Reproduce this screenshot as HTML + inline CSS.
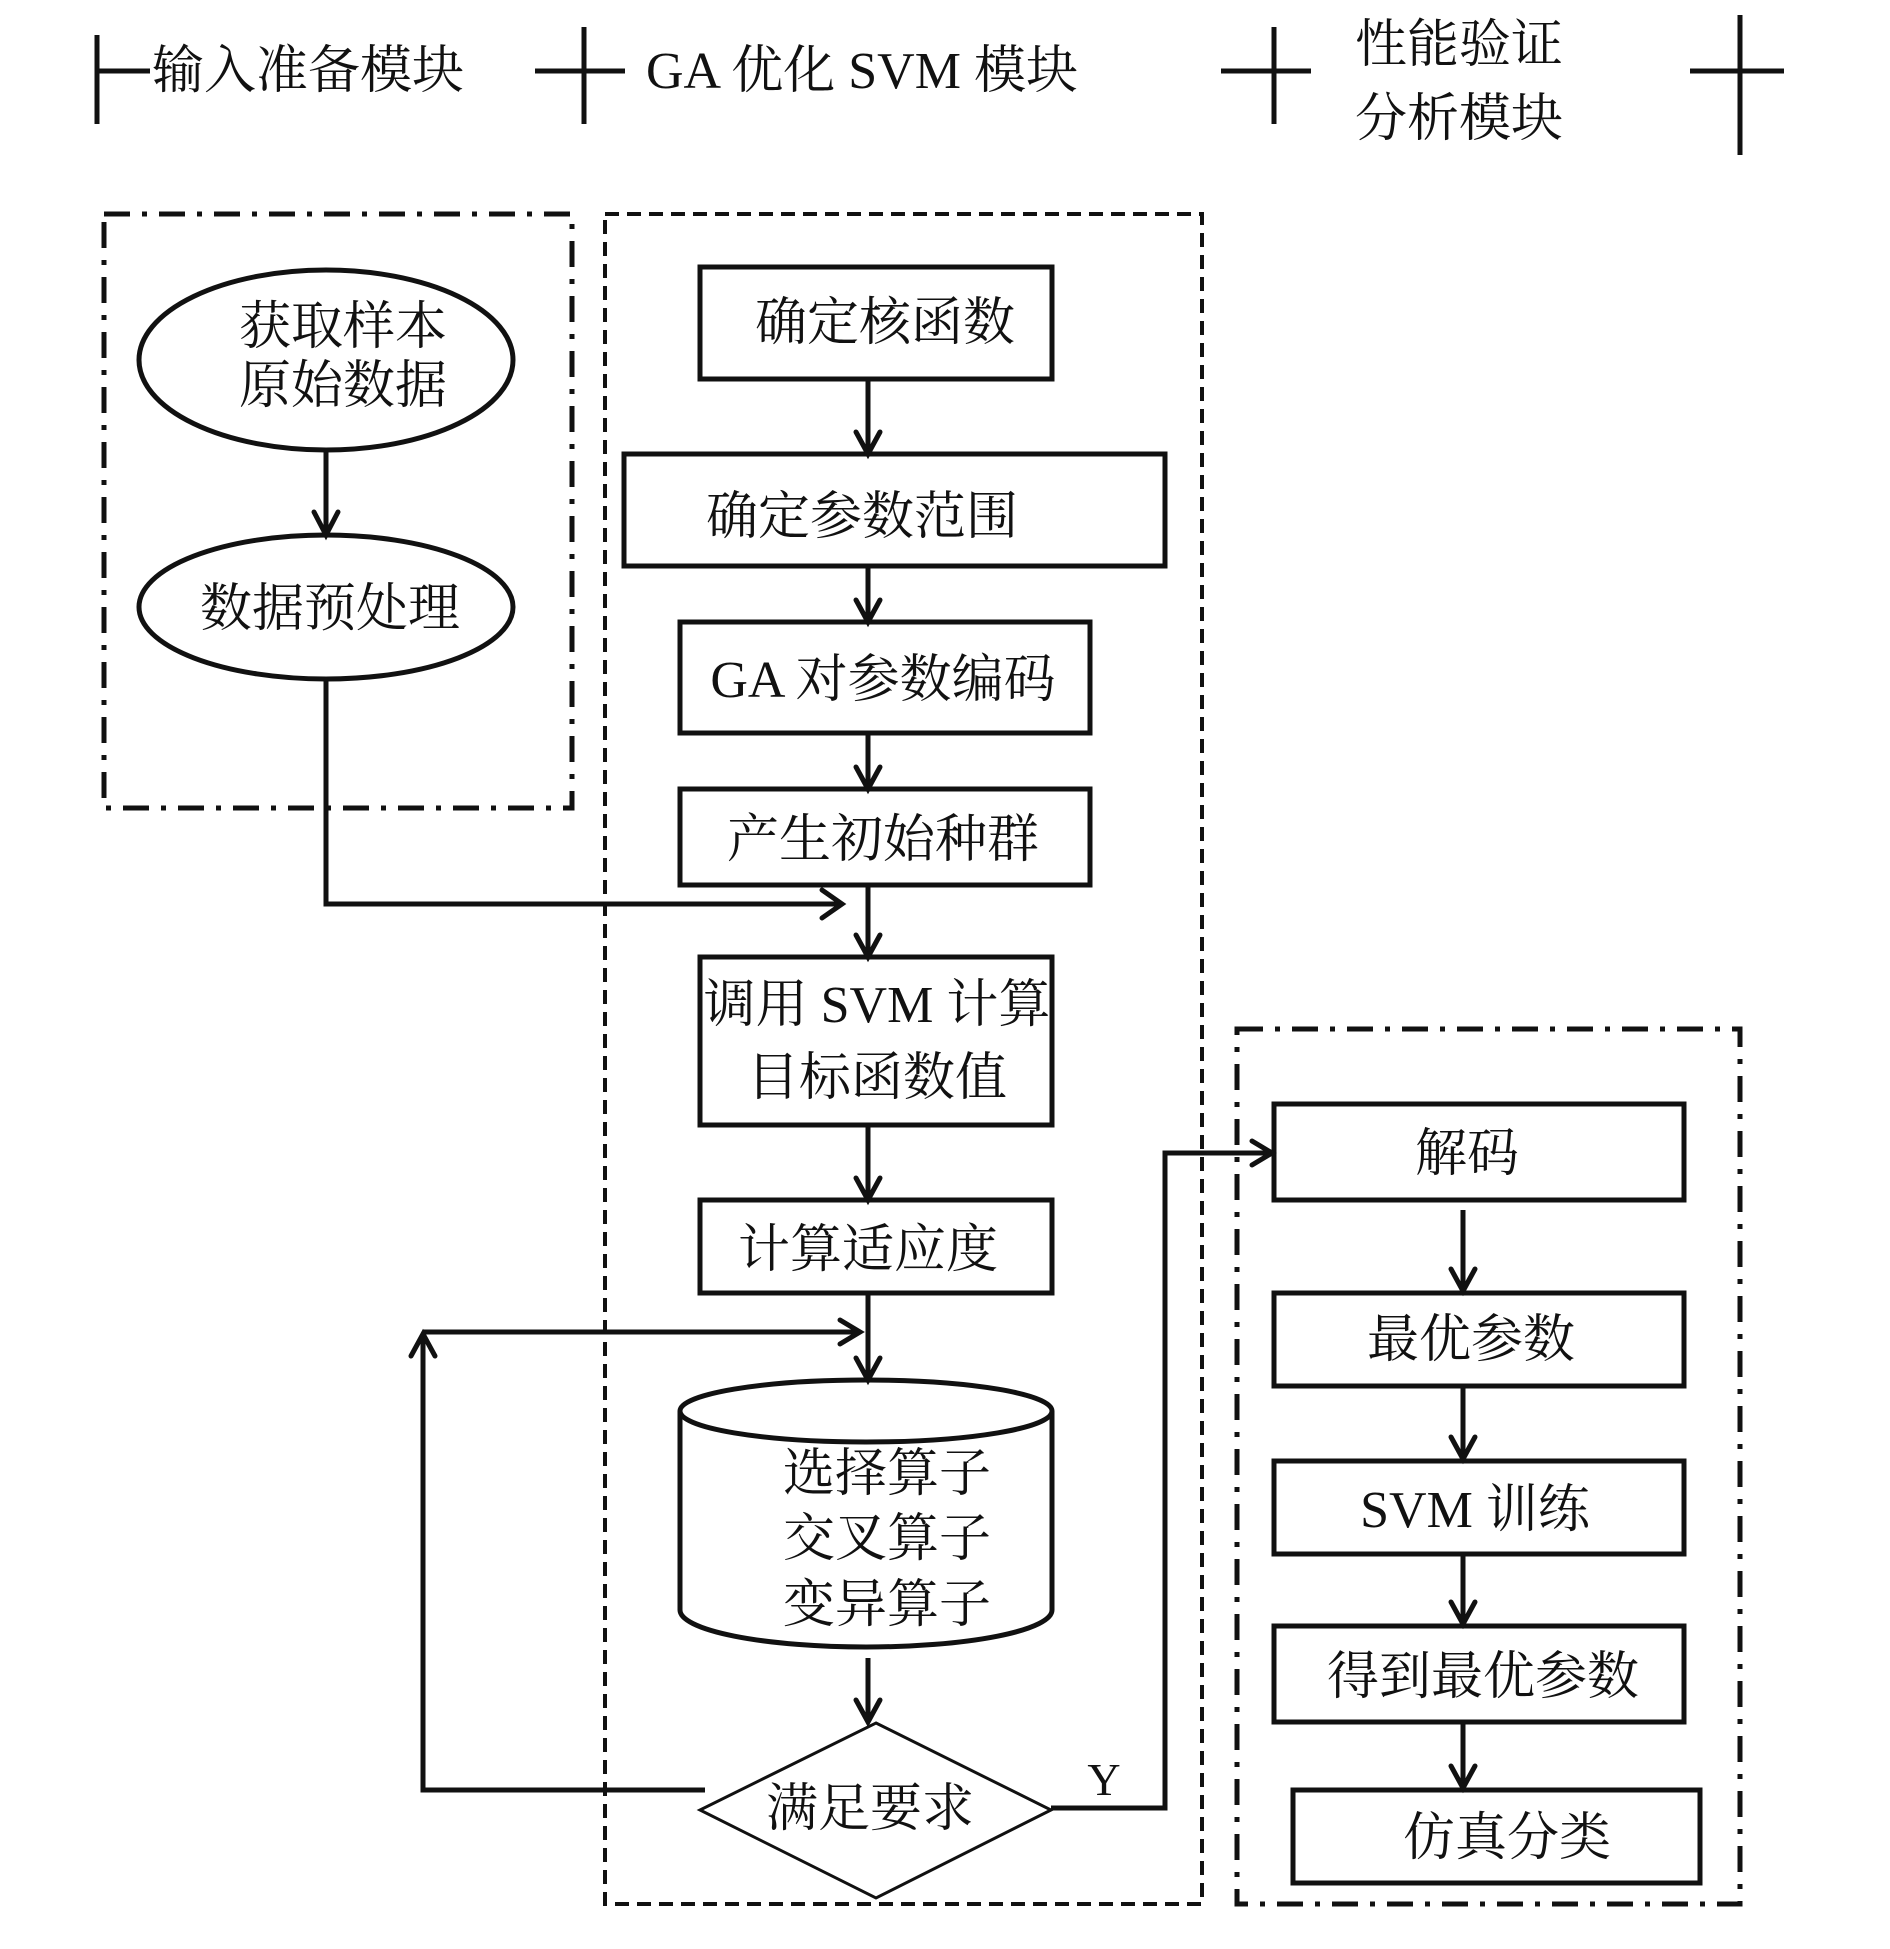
<!DOCTYPE html>
<html><head><meta charset="utf-8"><style>
html,body{margin:0;padding:0;background:#fff;}
svg{display:block;}
text{font-family:"Liberation Serif","Noto Serif CJK SC",serif;fill:#111;}
</style></head><body>
<svg width="1890" height="1949" viewBox="0 0 1890 1949" xmlns="http://www.w3.org/2000/svg">
<defs>
<marker id="ah" markerWidth="10" markerHeight="10" refX="9" refY="5" orient="auto" markerUnits="userSpaceOnUse" viewBox="0 0 10 10">
</marker>
</defs>
<g stroke="#111" stroke-width="5" fill="none">
<!-- header ticks -->
<line x1="97" y1="35" x2="97" y2="124"/><line x1="97" y1="71" x2="150" y2="71"/>
<line x1="535" y1="71" x2="625" y2="71"/><line x1="584" y1="27" x2="584" y2="124"/>
<line x1="1221" y1="71" x2="1311" y2="71"/><line x1="1274" y1="27" x2="1274" y2="124"/>
<line x1="1690" y1="71" x2="1784" y2="71"/><line x1="1740" y1="15" x2="1740" y2="155"/>
</g>
<!-- group boxes -->
<rect x="104" y="214" width="468" height="594" fill="none" stroke="#111" stroke-width="5" stroke-dasharray="26,12,5,12"/>
<rect x="605" y="214" width="597" height="1690" fill="none" stroke="#111" stroke-width="4" stroke-dasharray="14,8"/>
<rect x="1237" y="1029" width="503" height="875" fill="none" stroke="#111" stroke-width="5" stroke-dasharray="26,12,5,12"/>
<g stroke="#111" stroke-width="5" fill="#fff">
<ellipse cx="326" cy="360" rx="187" ry="90"/>
<ellipse cx="326" cy="607" rx="187" ry="72"/>
<rect x="700" y="267" width="352" height="112"/>
<rect x="624" y="454" width="541" height="112"/>
<rect x="680" y="622" width="410" height="111"/>
<rect x="680" y="789" width="410" height="96"/>
<rect x="700" y="957" width="352" height="168"/>
<rect x="700" y="1200" width="352" height="93"/>
<path d="M680 1411 L680 1610 A186 37 0 0 0 1052 1610 L1052 1411"/>
<ellipse cx="866" cy="1411" rx="186" ry="31"/>
<rect x="1274" y="1104" width="410" height="96"/>
<rect x="1274" y="1293" width="410" height="93"/>
<rect x="1274" y="1461" width="410" height="93"/>
<rect x="1274" y="1626" width="410" height="96"/>
<rect x="1293" y="1790" width="407" height="93"/>
</g>
<polygon points="876,1723 1051,1810 876,1898 700,1810" fill="#fff" stroke="#111" stroke-width="3"/>
<g stroke="#111" stroke-width="5" fill="none">
<line x1="326" y1="450" x2="326" y2="533"/>
<polyline points="326,679 326,904 840,904"/>
<line x1="868" y1="379" x2="868" y2="452"/>
<line x1="868" y1="566" x2="868" y2="620"/>
<line x1="868" y1="733" x2="868" y2="787"/>
<line x1="868" y1="885" x2="868" y2="955"/>
<line x1="868" y1="1125" x2="868" y2="1198"/>
<line x1="868" y1="1293" x2="868" y2="1378"/>
<line x1="868" y1="1658" x2="868" y2="1720"/>
<polyline points="705,1790 423,1790 423,1334"/>
<line x1="423" y1="1332" x2="858" y2="1332"/>
<polyline points="1051,1808 1165,1808 1165,1153 1270,1153"/>
<line x1="1463" y1="1210" x2="1463" y2="1291"/>
<line x1="1463" y1="1386" x2="1463" y2="1459"/>
<line x1="1463" y1="1554" x2="1463" y2="1624"/>
<line x1="1463" y1="1722" x2="1463" y2="1788"/>
</g>
<g stroke="#111" stroke-width="5" fill="none" stroke-linecap="round">
<polyline points="314,512 326,535 338,512"/>
<polyline points="822,890 842,904 822,918"/>
<g id="d"></g>
<polyline points="856,432 868,454 880,432"/>
<polyline points="856,600 868,622 880,600"/>
<polyline points="856,767 868,789 880,767"/>
<polyline points="856,935 868,957 880,935"/>
<polyline points="856,1178 868,1200 880,1178"/>
<polyline points="856,1358 868,1380 880,1358"/>
<polyline points="856,1700 868,1722 880,1700"/>
<polyline points="411,1356 423,1334 435,1356"/>
<polyline points="840,1320 860,1332 840,1344"/>
<polyline points="1252,1141 1272,1153 1252,1165"/>
<polyline points="1451,1269 1463,1291 1475,1269"/>
<polyline points="1451,1437 1463,1459 1475,1437"/>
<polyline points="1451,1602 1463,1624 1475,1602"/>
<polyline points="1451,1766 1463,1788 1475,1766"/>
</g>
<!-- header text -->
<g font-size="52" text-anchor="start">
<text x="152" y="88">输入准备模块</text>
<text x="646" y="88">GA 优化 SVM 模块</text>
<text x="1355" y="62">性能验证</text>
<text x="1355" y="136">分析模块</text>
</g>
<g font-size="52" text-anchor="middle">
<text x="343" y="344">获取样本</text>
<text x="343" y="403">原始数据</text>
<text x="330" y="626">数据预处理</text>
<text x="885" y="340">确定核函数</text>
<text x="862" y="534">确定参数范围</text>
<text x="883" y="697">GA 对参数编码</text>
<text x="883" y="857">产生初始种群</text>
<text x="877" y="1022">调用 SVM 计算</text>
<text x="877" y="1095">目标函数值</text>
<text x="868" y="1267">计算适应度</text>
<text x="887" y="1491">选择算子</text>
<text x="887" y="1556">交叉算子</text>
<text x="887" y="1622">变异算子</text>
<text x="870" y="1826">满足要求</text>
<text x="1467" y="1171">解码</text>
<text x="1471" y="1357">最优参数</text>
<text x="1475" y="1527">SVM 训练</text>
<text x="1483" y="1694">得到最优参数</text>
<text x="1507" y="1855">仿真分类</text>
<text x="1104" y="1795" font-size="46">Y</text>
</g>
</svg>
</body></html>
